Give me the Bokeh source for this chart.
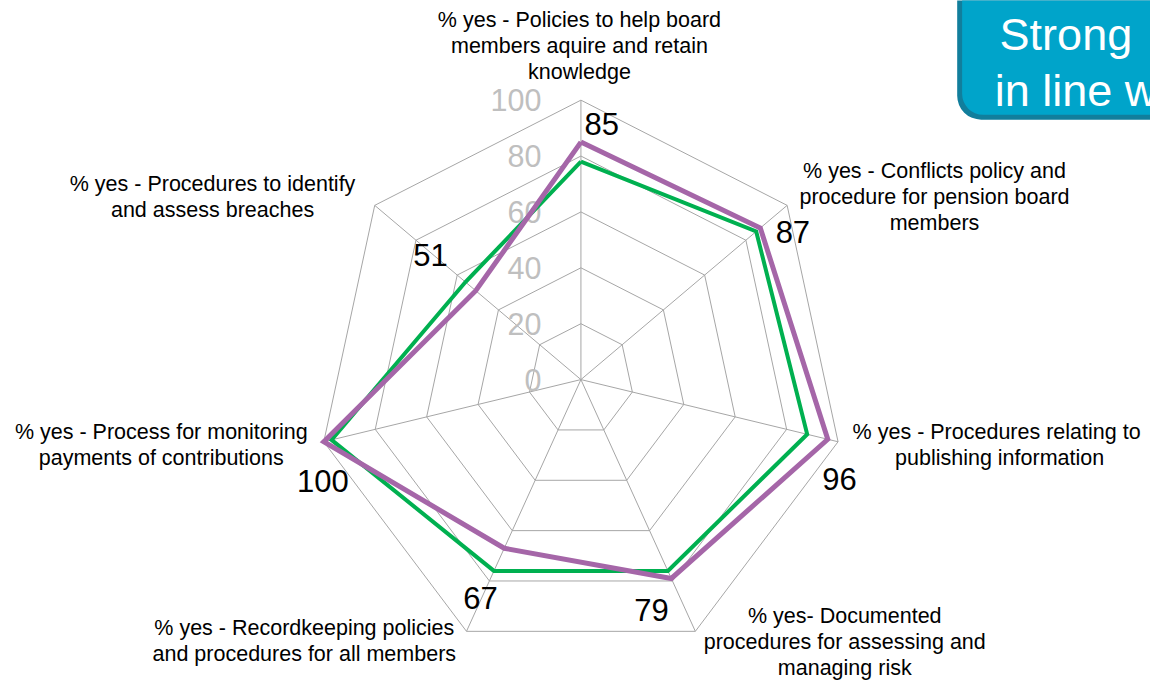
import numpy as np
from bokeh.plotting import figure
from bokeh.models import Range1d
from bokeh.core.properties import value
from bokeh.embed import file_html
from bokeh.resources import INLINE

# ---------------- data ----------------
categories = [
    "% yes - Policies to help board\nmembers aquire and retain\nknowledge",
    "% yes - Conflicts policy and\nprocedure for pension board\nmembers",
    "% yes -  Procedures relating to\npublishing information",
    "% yes- Documented\nprocedures for assessing and\nmanaging risk",
    "% yes - Recordkeeping policies\nand procedures for all members",
    "% yes - Process for monitoring\npayments of contributions",
    "% yes - Procedures to identify\nand assess breaches",
]
series_purple = [85, 87, 96, 79, 67, 100, 51]
series_green = [78, 85, 88, 76, 76, 97, 56]
ring_ticks = [0, 20, 40, 60, 80, 100]
box_lines = ["Strong", "in line w"]

# ---------------- layout ----------------
W, H = 1150, 680
SX, SY = W / 1166.0, H / 696.0          # reference picture -> figure scale
KY = 2.86 * SY                          # px per unit (vertical)
KX = 2.86 * 0.935 * SX                  # px per unit (horizontal, squeezed chart)
CX, CY = 588.5 * SX, 388.0 * SY         # radar centre in figure pixels

def ref(X, Y):
    """reference-picture pixel -> data coordinate"""
    return ((X * SX - CX) / KX, (CY - Y * SY) / KY)

FONT = value("Liberation Sans")
GRID = "#A6A6A6"
PURPLE = "#A566A8"
GREEN = "#00B050"

p = figure(width=W, height=H, output_backend="svg", toolbar_location=None,
           x_axis_location=None, y_axis_location=None,
           x_range=Range1d(-CX / KX, (W - CX) / KX),
           y_range=Range1d(-(H - CY) / KY, CY / KY),
           min_border=0, outline_line_color=None)
p.grid.visible = False
p.background_fill_color = "white"

n = len(categories)
theta = 2 * np.pi * np.arange(n) / n
sin_t, cos_t = np.sin(theta), np.cos(theta)

# rings
ring_xs, ring_ys = [], []
for v in ring_ticks[1:]:
    ring_xs.append(list(v * np.append(sin_t, sin_t[0])))
    ring_ys.append(list(v * np.append(cos_t, cos_t[0])))
p.multi_line(ring_xs, ring_ys, line_color=GRID, line_width=1)

# spokes
top = ring_ticks[-1]
p.segment(x0=np.zeros(n), y0=np.zeros(n), x1=top * sin_t, y1=top * cos_t,
          line_color=GRID, line_width=1)

# ring tick labels
p.text(x=[0] * len(ring_ticks), y=ring_ticks, text=[str(v) for v in ring_ticks],
       x_offset=-40 * SX, text_align="right", text_baseline="middle",
       text_color="#BFBFBF", text_font=FONT, text_font_size="30.5px")

# series
def closed(vals):
    v = np.array(vals, dtype=float)
    return list(np.append(v * sin_t, v[0] * sin_t[0])), list(np.append(v * cos_t, v[0] * cos_t[0]))

gx, gy = closed(series_green)
p.line(gx, gy, line_color=GREEN, line_width=4, line_join="miter")
px_, py_ = closed(series_purple)
p.line(px_, py_, line_color=PURPLE, line_width=5, line_join="miter")

# data labels (purple series)
lab_dx = [21, 33, 12, -20, -24, -1, -46]
lab_dy = [-18, 4, 41, 32, 51, 40, -37]
vp = np.array(series_purple, dtype=float)
p.text(x=vp * sin_t, y=vp * cos_t, text=[str(v) for v in series_purple],
       x_offset=[d * SX for d in lab_dx], y_offset=[d * SY for d in lab_dy],
       text_align="center", text_baseline="middle",
       text_color="#000000", text_font=FONT, text_font_size="31px")

# category labels
anchors = [(587, 20), (947, 175), (1013, 442), (856, 630), (308, 642), (163, 442), (215, 188)]
LINE_GAP = 26.5
cx_, cy_, ct, cyo = [], [], [], []
for cat, (ax, ay) in zip(categories, anchors):
    dx, dy = ref(ax, ay)
    for i, line in enumerate(cat.split("\n")):
        cx_.append(dx); cy_.append(dy); ct.append(line); cyo.append(i * LINE_GAP * SY)
p.text(x=cx_, y=cy_, text=ct, y_offset=cyo, text_align="center", text_baseline="middle",
       text_color="#000000", text_font=FONT, text_font_size="21.5px")

# callout box (top right)
l0, t0 = ref(970, -40)
r0, b0 = ref(1300, 122)
l1, _ = ref(975, -40)
_, b1 = ref(1300, 117)
p.quad(left=l0, right=r0, top=t0, bottom=b0, fill_color="#117E9C", line_color=None,
       border_radius=24)
p.quad(left=l1, right=r0, top=t0, bottom=b1, fill_color="#00A4CA", line_color=None,
       border_radius=21)
bx = [ref(1013, 35)[0], ref(1008, 92)[0]]
by = [ref(1013, 35)[1], ref(1008, 92)[1]]
p.text(x=bx, y=by, text=box_lines, text_align="left", text_baseline="alphabetic",
       text_color="white", text_font=FONT, text_font_size="45px")

open("out.html", "w").write(file_html(p, INLINE))
